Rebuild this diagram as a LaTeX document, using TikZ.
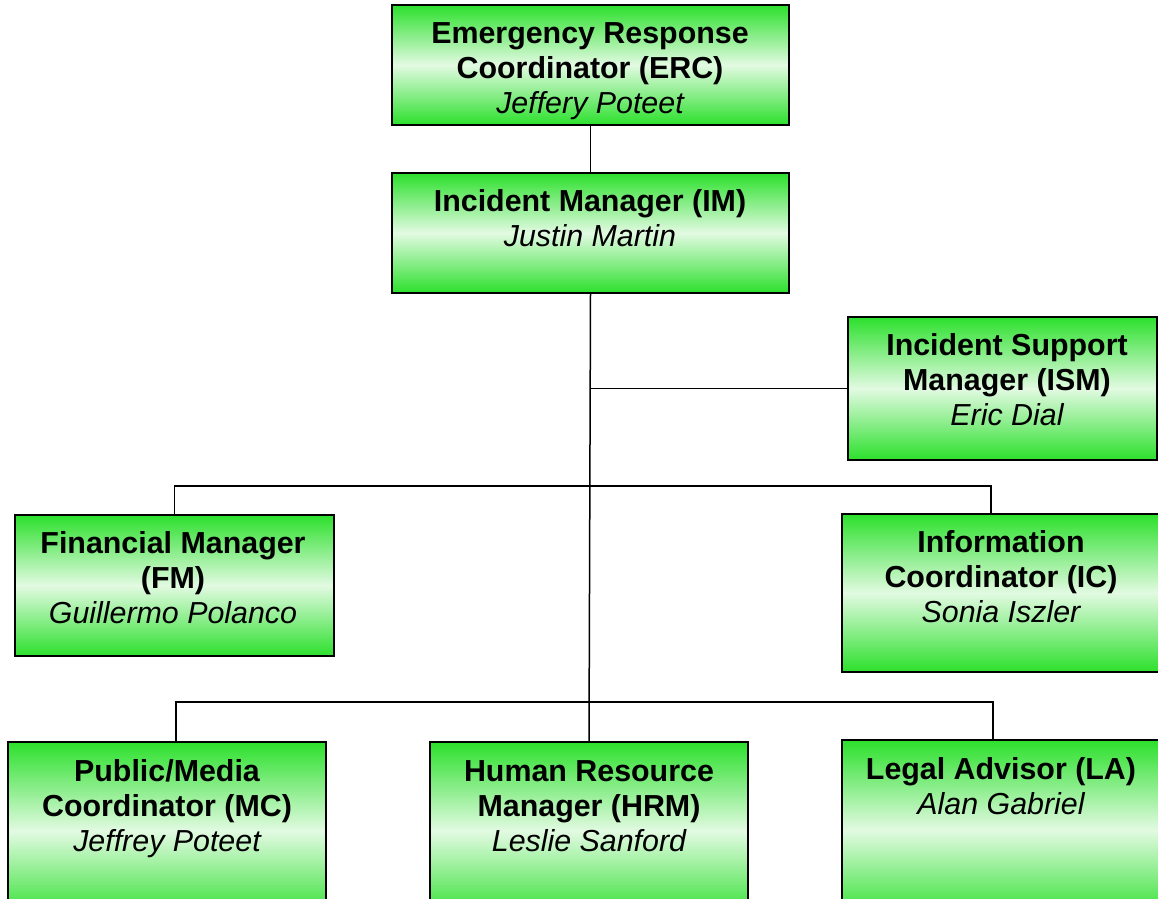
\documentclass[tikz,border=0pt]{standalone}
\usepackage{fontspec}
\setmainfont{Liberation Sans}
\definecolor{boxgreen}{RGB}{44,224,44}
\definecolor{boxpale}{RGB}{226,250,226}
\newcommand{\person}[1]{{\mdseries\itshape #1}}
\tikzset{
  box/.style={draw=black, line width=1.6bp, top color=boxgreen, bottom color=boxgreen, middle color=boxpale, inner sep=0pt},
  lbl/.style={align=center, font=\fontsize{30.5}{35}\selectfont\bfseries, inner sep=0pt}
}
\begin{document}
\begin{tikzpicture}[x=1bp, y=-1bp, line width=1.5bp]
\useasboundingbox (0,0) rectangle (1158,899);
\clip (0,0) rectangle (1158,899);
\begin{scope}[every node/.style=box]
  \node[minimum width=397bp, minimum height=120bp] (erc) at (590.5,65) {};
  \node[minimum width=397bp, minimum height=120bp] (im) at (590.5,233) {};
  \node[minimum width=309bp, minimum height=143bp] (ism) at (1002.5,388.5) {};
  \node[minimum width=319bp, minimum height=141bp] (fm) at (174.5,585.5) {};
  \node[minimum width=320bp, minimum height=158bp] (ic) at (1002,593) {};
  \node[minimum width=318bp, minimum height=178bp] (mc) at (167,831) {};
  \node[minimum width=318bp, minimum height=178bp] (hrm) at (589,831) {};
  \node[minimum width=320bp, minimum height=180bp] (la) at (1002,830) {};
\end{scope}
\begin{scope}[every node/.style=lbl]
  \node (erc-t) at (590,71) {Emergency Response\\Coordinator (ERC)\\\person{Jeffery Poteet}};
  \node (im-t) at (590,218.5) {Incident Manager (IM)\\\person{Justin Martin}};
  \node (ism-t) at (1007,379.5) {Incident Support\\Manager (ISM)\\\person{Eric Dial}};
  \node (fm-t) at (173,578) {Financial Manager\\(FM)\\\person{Guillermo Polanco}};
  \node (ic-t) at (1001,576.5) {Information\\Coordinator (IC)\\\person{Sonia Iszler}};
  \node (mc-t) at (167,809) {Public/Media\\Coordinator (MC)\\\person{Jeffrey Poteet}};
  \node (hrm-t) at (589,806) {Human Resource\\Manager (HRM)\\\person{Leslie Sanford}};
  \node (la-t) at (1001,786.5) {Legal Advisor (LA)\\\person{Alan Gabriel}};
\end{scope}
\coordinate (fork1) at (590,486);
\coordinate (fork2) at (590,702);
\draw (erc.south) -- (im.north);
\draw (im.south) -- (hrm.north);
\draw (ism.west) -- (ism.west -| im.south);
\draw (fm.north) |- (fork1) -| ([xshift=-11bp]ic.north);
\draw ([xshift=9bp]mc.north) |- (fork2) -| ([xshift=-9bp]la.north);
\end{tikzpicture}
\end{document}
